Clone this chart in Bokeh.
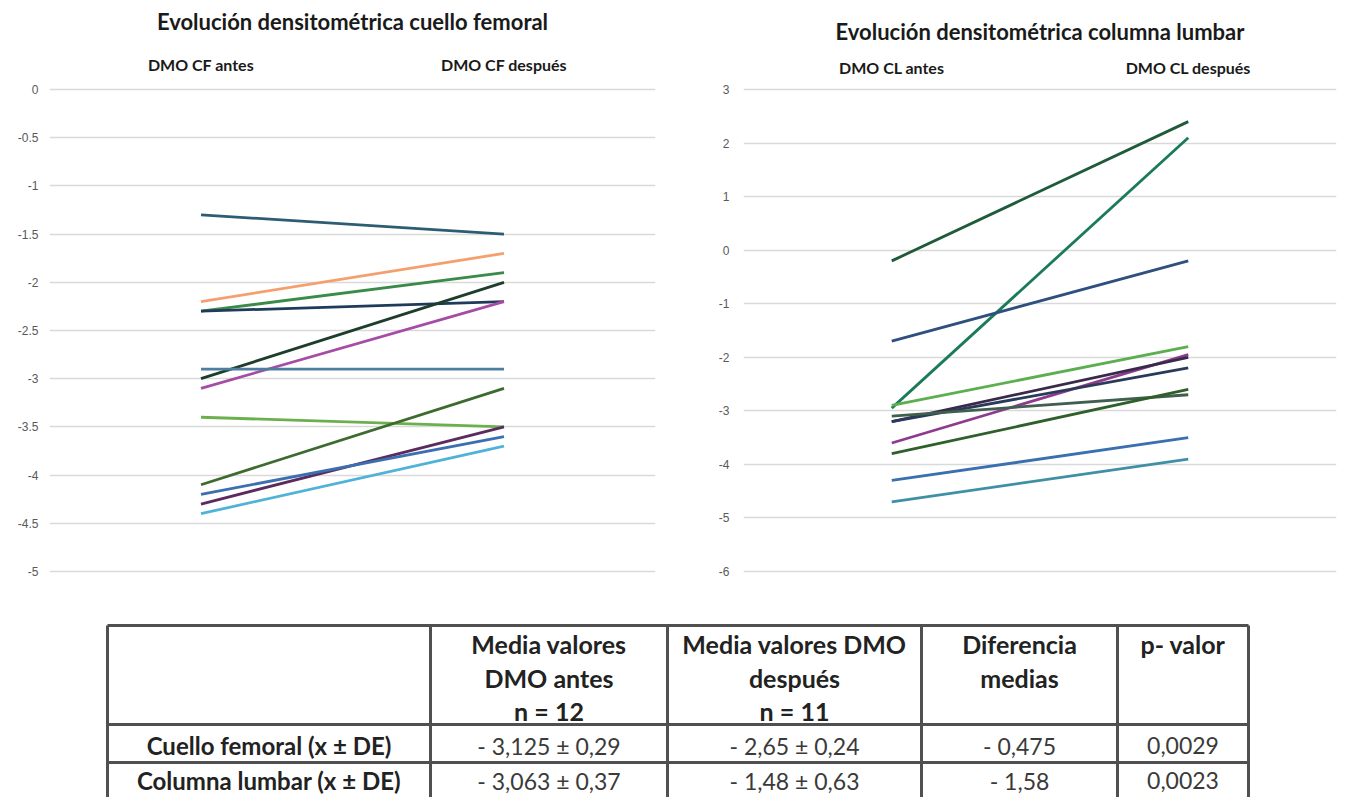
from bokeh.plotting import figure
from bokeh.layouts import column, row
from bokeh.models import Range1d, FixedTicker, ColumnDataSource
from bokeh.core.properties import value
from bokeh.embed import file_html
from bokeh.resources import INLINE

# ------------------------------------------------------------------ data
cf_title = "Evolución densitométrica cuello femoral"
cf_categories = ["DMO CF antes", "DMO CF después"]
cf_antes = [-1.3, -2.2, -2.3, -2.3, -3.0, -3.1, -2.9, -3.4, -4.1, -4.3, -4.2, -4.4]
cf_despues = [-1.5, -1.7, -1.9, -2.2, -2.0, -2.2, -2.9, -3.5, -3.1, -3.5, -3.6, -3.7]
cf_ticks = [0, -0.5, -1, -1.5, -2, -2.5, -3, -3.5, -4, -4.5, -5]
cf_tick_labels = ["0", "-0.5", "-1", "-1.5", "-2", "-2.5", "-3", "-3.5", "-4", "-4.5", "-5"]

cl_title = "Evolución densitométrica columna lumbar"
cl_categories = ["DMO CL antes", "DMO CL después"]
cl_antes = [-0.2, -2.95, -1.7, -2.9, -3.6, -3.2, -3.2, -3.1, -3.8, -4.3, -4.7]
cl_despues = [2.4, 2.1, -0.2, -1.8, -1.95, -2.0, -2.2, -2.7, -2.6, -3.5, -3.9]
cl_ticks = [3, 2, 1, 0, -1, -2, -3, -4, -5, -6]
cl_tick_labels = ["3", "2", "1", "0", "-1", "-2", "-3", "-4", "-5", "-6"]

table_header = [
    [],
    ["Media valores", "DMO antes", "n = 12"],
    ["Media valores DMO", "después", "n = 11"],
    ["Diferencia", "medias"],
    ["p- valor"],
]
table_rows = ["Cuello femoral (x ± DE)", "Columna lumbar (x ± DE)"]
media_antes = ["- 3,125 ± 0,29", "- 3,063 ± 0,37"]
media_despues = ["- 2,65 ± 0,24", "- 1,48 ± 0,63"]
diferencia_medias = ["- 0,475", "- 1,58"]
p_valor = ["0,0029", "0,0023"]

# ------------------------------------------------------------------ styles
cf_colors = ["#2E5C73", "#F4A06E", "#3A8A4A", "#1F3A5A", "#1E3D2A", "#A64CA6",
             "#4E7FA0", "#6CB04E", "#3D6B2E", "#5B2A5E", "#3B6FB0", "#4FB3D9"]
cl_colors = ["#1F5A3A", "#1A7A5A", "#2F4F7F", "#5CAF4E", "#8E3A8E", "#3A2A4A",
             "#2A3A5A", "#3F5F4F", "#2F5F2A", "#3A6FB0", "#3F8FA5"]


def slope_chart(cats, before, after, colors, ticks, labels, title, ymin, ymax,
                width, height, borders, ylab_standoff, cat_standoff, title_standoff):
    p = figure(x_range=cats, y_range=Range1d(ymin, ymax), width=width, height=height,
               x_axis_location="above", output_backend="svg", toolbar_location=None,
               min_border_left=borders[0], min_border_right=borders[1],
               min_border_top=borders[2], min_border_bottom=borders[3])
    p.outline_line_color = None
    p.background_fill_color = "white"
    p.border_fill_color = "white"
    p.xgrid.grid_line_color = None
    p.ygrid.ticker = FixedTicker(ticks=ticks)
    p.ygrid.grid_line_color = "#d9d9d9"
    p.ygrid.grid_line_width = 1.5

    ya = p.yaxis[0]
    ya.ticker = FixedTicker(ticks=ticks)
    ya.major_label_overrides = {t: l for t, l in zip(ticks, labels)}
    ya.axis_line_color = None
    ya.major_tick_line_color = None
    ya.minor_tick_line_color = None
    ya.major_tick_out = 0
    ya.major_tick_in = 0
    ya.major_label_standoff = ylab_standoff
    ya.major_label_text_font = "Liberation Sans"
    ya.major_label_text_font_size = "12px"
    ya.major_label_text_color = "#595959"

    xa = p.xaxis[0]
    xa.axis_line_color = None
    xa.major_tick_line_color = None
    xa.major_tick_out = 0
    xa.major_tick_in = 0
    xa.major_label_standoff = cat_standoff
    xa.major_label_text_font = "Lato"
    xa.major_label_text_font_style = "bold"
    xa.major_label_text_font_size = "16px"
    xa.major_label_text_color = "#1a1a1a"
    xa.axis_label = title
    xa.axis_label_text_font = "Lato"
    xa.axis_label_text_font_style = "bold"
    xa.axis_label_text_font_size = "22px"
    xa.axis_label_text_color = "#1a1a1a"
    xa.axis_label_standoff = title_standoff

    src = ColumnDataSource(dict(
        xs=[list(cats) for _ in before],
        ys=[[b, a] for b, a in zip(before, after)],
        color=colors[:len(before)],
    ))
    p.multi_line("xs", "ys", source=src, line_color="color", line_width=2.8)
    return p


# left chart: frame x 49..655, y 88 (0) .. 571 (-5)  (3 px padding for edge gridlines)
p1 = slope_chart(cf_categories, cf_antes, cf_despues, cf_colors, cf_ticks, cf_tick_labels,
                 cf_title, -5.031, 0.031, 688, 600, (49, 33, 85, 26), 11, 13, 17)
# right chart: frame x 743..1336, y 89 (3) .. 575 (-6)
p2 = slope_chart(cl_categories, cl_antes, cl_despues, cl_colors, cl_ticks, cl_tick_labels,
                 cl_title, -6.056, 3.056, 658, 600, (55, 10, 86, 22), 14, 10, 10)

# ------------------------------------------------------------------ table
t = figure(width=1346, height=197, x_range=Range1d(0, 1346), y_range=Range1d(197, 0),
           output_backend="svg", toolbar_location=None, min_border=0,
           x_axis_location=None, y_axis_location=None)
t.outline_line_color = None
t.grid.visible = False

col_edges = [107, 430, 667, 921, 1117, 1248]
row_edges = [25, 124, 162, 201]
line_col = "#505050"
t.segment(x0=[col_edges[0]] * len(row_edges), x1=[col_edges[-1]] * len(row_edges),
          y0=row_edges, y1=row_edges, line_color=line_col, line_width=3)
t.segment(x0=col_edges, x1=col_edges, y0=[row_edges[0]] * len(col_edges),
          y1=[row_edges[-1]] * len(col_edges), line_color=line_col, line_width=3)

centers = [(col_edges[i] + col_edges[i + 1]) / 2 for i in range(len(col_edges) - 1)]
header_line_y = [43, 77, 110]
hx, hy, ht = [], [], []
for ci, lines in enumerate(table_header):
    for li, txt in enumerate(lines):
        hx.append(centers[ci])
        hy.append(header_line_y[li])
        ht.append(txt)
t.text(x=hx, y=hy, text=ht, text_align="center", text_baseline="middle",
       text_font=value("Lato"), text_font_style="bold", text_font_size="25px",
       text_color="#222222")

row_y = [145, 180]
t.text(x=[centers[0]] * 2, y=row_y, text=table_rows, text_align="center",
       text_baseline="middle", text_font=value("Lato"), text_font_style="bold",
       text_font_size="24px", text_color="#222222")
vx, vy, vt = [], [], []
for ci, col in enumerate([media_antes, media_despues, diferencia_medias, p_valor], start=1):
    for ri, txt in enumerate(col):
        vx.append(centers[ci])
        vy.append(row_y[ri])
        vt.append(txt)
t.text(x=vx, y=vy, text=vt, text_align="center", text_baseline="middle",
       text_font=value("Lato"), text_font_size="23px", text_color="#3a3a3a")

layout = column(row(p1, p2), t)
open("out.html", "w").write(file_html(layout, INLINE))
